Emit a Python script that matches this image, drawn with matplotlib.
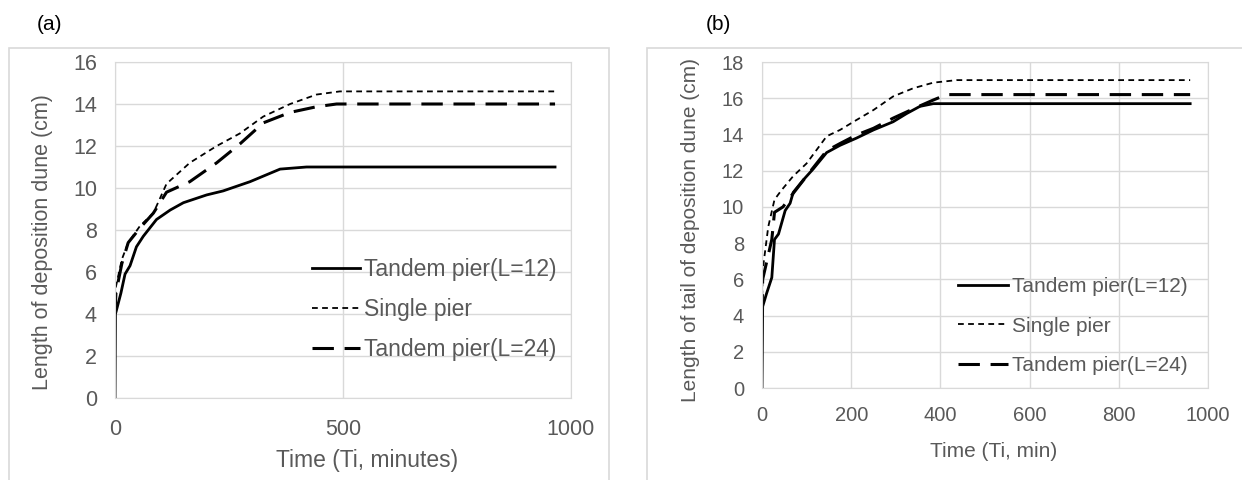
import matplotlib.pyplot as plt
from matplotlib.patches import Rectangle

plt.rcParams["font.family"] = ["Liberation Sans", "DejaVu Sans"]

# ---- panel (a): length of deposition dune ----
a_t12 = [0, 1, 7, 13, 22, 33, 47, 62, 91, 121, 150, 201, 237, 296, 362, 420, 965]
a_y12 = [0, 4.0, 4.5, 5.0, 5.9, 6.3, 7.2, 7.7, 8.5, 8.95, 9.3, 9.67, 9.86, 10.3, 10.9, 11.0, 11.0]

a_ts = [0, 2, 15, 29, 55, 84, 113, 164, 223, 274, 325, 384, 442, 493, 965]
a_ys = [4.3, 5.3, 6.6, 7.4, 8.2, 8.8, 10.2, 11.2, 12.0, 12.6, 13.4, 14.0, 14.45, 14.6, 14.6]

a_t24 = [0, 2, 15, 29, 55, 84, 113, 164, 223, 274, 325, 384, 442, 486, 965]
a_y24 = [4.0, 5.0, 6.4, 7.4, 8.1, 8.8, 9.8, 10.3, 11.2, 12.1, 13.1, 13.6, 13.87, 14.0, 14.0]

# ---- panel (b): length of tail of deposition dune ----
b_t12 = [0, 1.5, 10, 22, 28, 37, 52, 63, 70, 93, 115, 145, 175, 212, 250, 294, 324, 354, 384, 960]
b_y12 = [0, 4.5, 5.2, 6.1, 8.2, 8.5, 9.8, 10.2, 10.8, 11.5, 12.1, 13.0, 13.4, 13.8, 14.25, 14.7, 15.15, 15.55, 15.7, 15.7]

b_ts = [0, 1.5, 14, 28, 43, 70, 100, 145, 175, 212, 250, 294, 339, 384, 437, 960]
b_ys = [4.5, 6.5, 8.9, 10.4, 10.9, 11.7, 12.4, 13.9, 14.25, 14.8, 15.35, 16.1, 16.55, 16.86, 17.0, 17.0]

b_t24 = [0, 1.5, 22, 28, 47, 70, 100, 145, 175, 212, 250, 294, 347, 384, 414, 960]
b_y24 = [4.0, 6.0, 8.2, 9.7, 10.0, 10.75, 11.7, 13.1, 13.5, 13.97, 14.34, 14.9, 15.5, 15.9, 16.2, 16.2]

labels = ["Tandem pier(L=12)", "Single pier", "Tandem pier(L=24)"]

grid_c = "#d9d9d9"
text_c = "#595959"

fig = plt.figure(figsize=(12.42, 4.8), dpi=100)
W, H = 1242, 480

# outer chart borders
fig.patches.append(Rectangle((9 / W, -0.1), 600 / W, 1.1 - 48 / H, transform=fig.transFigure,
                             fill=False, edgecolor=grid_c, lw=1.2))
fig.patches.append(Rectangle((647 / W, -0.1), 700 / W, 1.1 - 48 / H, transform=fig.transFigure,
                             fill=False, edgecolor=grid_c, lw=1.2))

ax1 = fig.add_axes([115 / W, 1 - 398 / H, 456 / W, 336 / H])
ax2 = fig.add_axes([762 / W, 1 - 388 / H, 446 / W, 326 / H])


def draw(ax, s12, ss, s24):
    ax.plot(*s12, color="black", lw=2.0, label=labels[0])
    ax.plot(*ss, color="black", lw=1.3, dashes=(3.2, 2.4), label=labels[1])
    ax.plot(*s24, color="black", lw=2.2, dashes=(7, 3.5), label=labels[2])
    ax.grid(True, color=grid_c, lw=1.0)
    ax.set_axisbelow(True)
    for sp in ax.spines.values():
        sp.set_color(grid_c)
    ax.tick_params(length=0, labelcolor=text_c)
    ax.set_xlim(0, 1000)


draw(ax1, (a_t12, a_y12), (a_ts, a_ys), (a_t24, a_y24))
ax1.set_ylim(0, 16)
ax1.set_yticks(range(0, 17, 2))
ax1.set_xticks([0, 500, 1000])
ax1.tick_params(labelsize=15.5)
ax1.tick_params(axis="x", pad=15)
ax1.tick_params(axis="y", pad=13)
ax1.set_xlabel("Time (Ti, minutes)", fontsize=16.5, color=text_c)
ax1.xaxis.set_label_coords(0.553, -0.185)
ax1.xaxis.label.set_va("center")
ax1.set_ylabel("Length of deposition dune (cm)", fontsize=15.5, color=text_c)
ax1.yaxis.set_label_coords(-0.158, 0.464)
ax1.yaxis.label.set_va("center")
ax1.legend(loc="lower right", bbox_to_anchor=(0.968, 0.11), frameon=False,
           fontsize=16.5, labelcolor=text_c, handlelength=2.1, handletextpad=0.15,
           labelspacing=0.74, borderpad=0, borderaxespad=0)

draw(ax2, (b_t12, b_y12), (b_ts, b_ys), (b_t24, b_y24))
ax2.set_ylim(0, 18)
ax2.set_yticks(range(0, 19, 2))
ax2.set_xticks(range(0, 1001, 200))
ax2.tick_params(labelsize=14.5)
ax2.tick_params(axis="x", pad=13)
ax2.tick_params(axis="y", pad=13)
ax2.set_xlabel("Time (Ti, min)", fontsize=15, color=text_c)
ax2.xaxis.set_label_coords(0.52, -0.196)
ax2.xaxis.label.set_va("center")
ax2.set_ylabel("Length of tail of deposition dune (cm)", fontsize=15, color=text_c)
ax2.yaxis.set_label_coords(-0.161, 0.485)
ax2.yaxis.label.set_va("center")
ax2.legend(loc="lower right", bbox_to_anchor=(0.955, 0.04), frameon=False,
           fontsize=15, labelcolor=text_c, handlelength=2.4, handletextpad=0.2,
           labelspacing=0.98, borderpad=0, borderaxespad=0)

fig.text(50 / W, 1 - 25 / H, "(a)", fontsize=15, ha="center", va="center")
fig.text(718 / W, 1 - 25 / H, "(b)", fontsize=15, ha="center", va="center")

fig.savefig("out.png", dpi=100)
